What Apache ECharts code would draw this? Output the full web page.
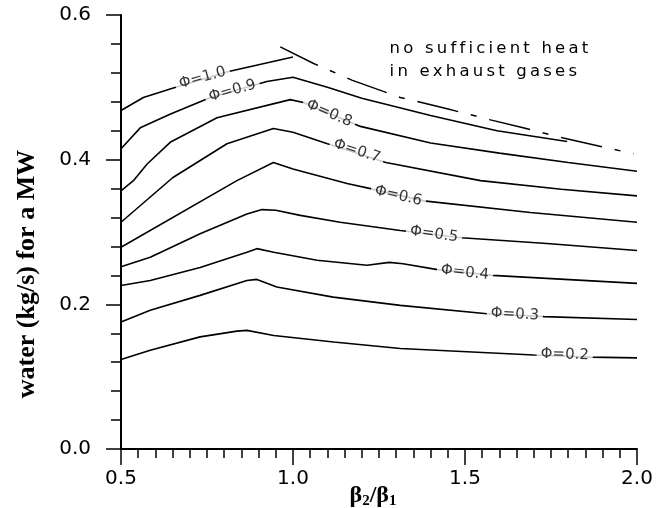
<!DOCTYPE html>
<html>
<head>
<meta charset="utf-8">
<script src="https://cdn.jsdelivr.net/npm/echarts@6/dist/echarts.min.js"></script>
<style>
  html, body { margin: 0; padding: 0; background: #fff; }
  #chart { width: 663px; height: 508px; }
</style>
</head>
<body>
<div id="chart"></div>
<script>
  // curves: [beta2/beta1, water (kg/s) for a MW]
  const phi10 = [[0.5, 0.468], [0.565, 0.486], [0.652, 0.499], [0.813, 0.522], [1.0, 0.542]];
  const phi09 = [[0.5, 0.415], [0.556, 0.444], [0.644, 0.463], [0.76, 0.486], [0.924, 0.508], [1.0, 0.514],
    [1.1, 0.500], [1.2, 0.485], [1.4, 0.461], [1.593, 0.440], [1.797, 0.425]];
  const phi08 = [[0.5, 0.357], [0.536, 0.371], [0.576, 0.394], [0.643, 0.424], [0.779, 0.458], [0.992, 0.483],
    [1.03, 0.479], [1.196, 0.446], [1.4, 0.423], [1.6, 0.409], [1.8, 0.396], [2.0, 0.384]];
  const phi07 = [[0.5, 0.3135], [0.65, 0.375], [0.808, 0.422], [0.943, 0.443], [1.0, 0.438], [1.1, 0.422],
    [1.27, 0.396], [1.545, 0.371], [1.78, 0.359], [2.0, 0.350]];
  const phi06 = [[0.5, 0.279], [0.837, 0.371], [0.943, 0.396], [1.0, 0.387], [1.157, 0.367], [1.225, 0.360],
    [1.38, 0.343], [1.69, 0.327], [2.0, 0.3135]];
  const phi05 = [[0.5, 0.252], [0.585, 0.265], [0.73, 0.2975], [0.866, 0.325], [0.91, 0.331], [0.95, 0.330],
    [1.021, 0.323], [1.137, 0.3135], [1.312, 0.302], [1.49, 0.292], [1.738, 0.284], [2.0, 0.2745]];
  const phi04 = [[0.5, 0.226], [0.585, 0.233], [0.73, 0.251], [0.866, 0.272], [0.895, 0.277], [0.944, 0.272],
    [1.07, 0.261], [1.215, 0.254], [1.28, 0.258], [1.32, 0.256], [1.42, 0.248], [1.58, 0.240], [2.0, 0.229]];
  const phi03 = [[0.5, 0.1756], [0.585, 0.1917], [0.73, 0.2124], [0.866, 0.233], [0.895, 0.2345], [0.953, 0.224],
    [1.117, 0.210], [1.312, 0.1986], [1.564, 0.187], [1.73, 0.183], [2.0, 0.179]];
  const phi02 = [[0.5, 0.1237], [0.585, 0.1366], [0.73, 0.155], [0.837, 0.163], [0.866, 0.164], [0.944, 0.157],
    [1.118, 0.148], [1.312, 0.139], [1.70, 0.130], [1.864, 0.127], [2.0, 0.126]];
  // limit: no sufficient heat in exhaust gases
  const limitLine = [[0.963, 0.556], [1.06, 0.533], [1.171, 0.510], [1.312, 0.486], [1.451, 0.470],
    [1.574, 0.455], [1.666, 0.4445], [1.786, 0.430], [1.898, 0.418], [1.99, 0.408]];

  const curves = [phi10, phi09, phi08, phi07, phi06, phi05, phi04, phi03, phi02];
  const curveNames = ['Φ=1.0', 'Φ=0.9', 'Φ=0.8', 'Φ=0.7', 'Φ=0.6', 'Φ=0.5', 'Φ=0.4', 'Φ=0.3', 'Φ=0.2'];
  const labelAt = [[0.737, 0.513], [0.824, 0.495], [1.105, 0.464], [1.186, 0.412], [1.306, 0.350],
    [1.41, 0.297], [1.50, 0.244], [1.645, 0.186], [1.79, 0.1305]];
  const labelTilt = [16, 16, -23, -18, -13, -8, -6, -3, -2];
  const noteLines = ['no sufficient heat', 'in exhaust gases'];

  const xMin = 0.5, xMax = 2.0, xStep = 0.5;
  const yMin = 0.0, yMax = 0.6, yStep = 0.2;

  const chart = echarts.init(document.getElementById('chart'));

  const series = curves.map((c, i) => ({
    name: curveNames[i],
    type: 'line',
    data: c,
    symbol: 'none',
    z: 2,
    lineStyle: { color: '#000', width: 1.6 }
  }));

  series.push({
    name: 'limit',
    type: 'line',
    data: limitLine,
    symbol: 'none',
    z: 2,
    lineStyle: { color: '#000', width: 1.5, type: [42, 13, 6, 13] }
  });

  series.push({
    name: 'labels',
    type: 'scatter',
    symbolSize: 0,
    z: 5,
    data: labelAt.map((p, i) => ({
      value: p,
      name: curveNames[i],
      label: { rotate: labelTilt[i] }
    })),
    label: {
      show: true,
      position: 'inside',
      formatter: p => p.name,
      color: '#000',
      fontFamily: 'DejaVu Sans',
      fontSize: 15,
      backgroundColor: '#fff',
      padding: [1, 4]
    }
  });

  // spread the letters a little, like the plotter lettering
  const noteText = noteLines.map(l => l.split('').map(ch => '{c|' + ch + '}').join('')).join('\n');

  chart.setOption({
    animation: false,
    backgroundColor: '#fff',
    grid: { left: 121, right: 26, top: 15, bottom: 59, containLabel: false, outerBoundsMode: 'none' },
    xAxis: {
      type: 'value',
      min: xMin,
      max: xMax,
      interval: xStep,
      name: '{b|β}{s|2}{b|/β}{s|1}',
      nameLocation: 'middle',
      nameGap: 33,
      nameMoveOverlap: false,
      nameTextStyle: {
        padding: [0, 12, 0, 0],
        rich: {
          b: { fontFamily: 'Liberation Serif', fontWeight: 'bold', fontSize: 24, color: '#000' },
          s: { fontFamily: 'Liberation Serif', fontWeight: 'bold', fontSize: 15, color: '#000', padding: [12, 0, 0, 0] }
        }
      },
      axisLine: { lineStyle: { color: '#000', width: 2 } },
      axisTick: { length: 16, lineStyle: { color: '#000', width: 1.5 } },
      minorTick: { show: true, splitNumber: 10, length: 9, lineStyle: { color: '#000', width: 1.5 } },
      splitLine: { show: false },
      axisLabel: {
        margin: 20,
        color: '#000',
        fontFamily: 'DejaVu Sans',
        fontSize: 20,
        formatter: v => v.toFixed(1)
      }
    },
    yAxis: {
      type: 'value',
      min: yMin,
      max: yMax,
      interval: yStep,
      name: 'water (kg/s) for a MW',
      nameLocation: 'middle',
      nameGap: 81,
      nameMoveOverlap: false,
      nameTextStyle: {
        fontFamily: 'Liberation Serif',
        fontWeight: 'bold',
        fontSize: 26,
        color: '#000',
        padding: [0, 84, 0, 0]
      },
      axisLine: { show: true, lineStyle: { color: '#000', width: 2 } },
      axisTick: { show: true, length: 15, lineStyle: { color: '#000', width: 1.5 } },
      minorTick: { show: true, splitNumber: 5, length: 10, lineStyle: { color: '#000', width: 1.5 } },
      splitLine: { show: false },
      axisLabel: {
        margin: 30,
        color: '#000',
        fontFamily: 'DejaVu Sans',
        fontSize: 20,
        formatter: v => v.toFixed(1)
      }
    },
    graphic: [{
      type: 'text',
      left: 388,
      top: 40,
      style: {
        text: noteText,
        fill: '#000',
        rich: {
          c: { fontFamily: 'DejaVu Sans', fontSize: 16.5, lineHeight: 23, padding: [0, 1.6, 0, 1.6], fill: '#000' }
        }
      }
    }],
    series: series
  });
</script>
</body>
</html>
